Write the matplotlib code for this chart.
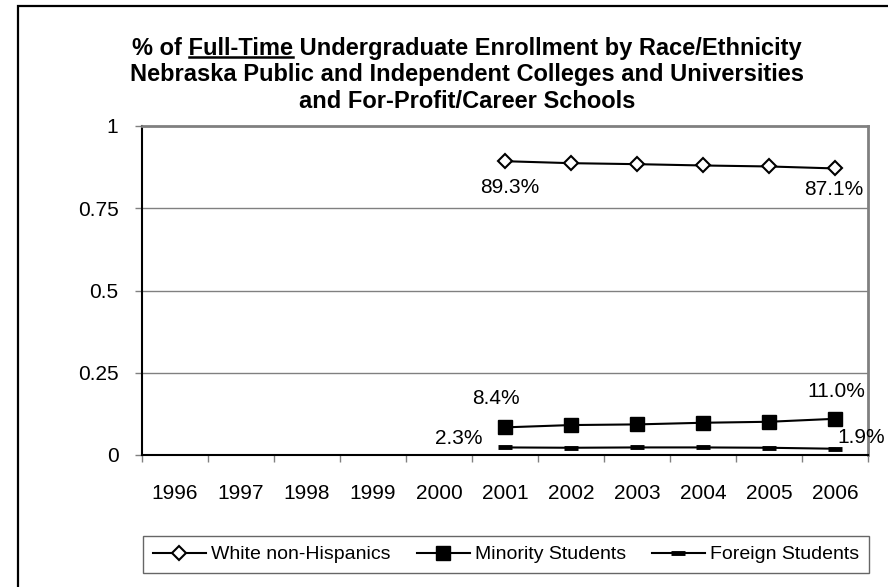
import matplotlib
matplotlib.use("Agg")
import matplotlib.pyplot as plt
from matplotlib.lines import Line2D
from matplotlib.patches import Rectangle

plt.rcParams["font.family"] = ["Liberation Sans", "DejaVu Sans"]

YEARS = ["1996", "1997", "1998", "1999", "2000", "2001", "2002", "2003", "2004", "2005", "2006"]
DATA_YEARS = ["2001", "2002", "2003", "2004", "2005", "2006"]
WHITE = [0.893, 0.887, 0.884, 0.880, 0.877, 0.871]
MINORITY = [0.084, 0.091, 0.093, 0.098, 0.101, 0.110]
FOREIGN = [0.023, 0.022, 0.023, 0.023, 0.022, 0.019]
Y_TICKS = [0, 0.25, 0.5, 0.75, 1]
Y_TICK_LABELS = ["0", "0.25", "0.5", "0.75", "1"]
SERIES_NAMES = ["White non-Hispanics", "Minority Students", "Foreign Students"]
TITLE_LINES = [
    "% of Full-Time Undergraduate Enrollment by Race/Ethnicity",
    "Nebraska Public and Independent Colleges and Universities",
    "and For-Profit/Career Schools",
]

W, H = 888, 587
fig = plt.figure(figsize=(W / 100, H / 100), dpi=100)
fig.patch.set_facecolor("white")

# outer chart frame (right/bottom edges fall outside the image)
fig.patches.append(Rectangle((18 / W, -0.1), 1.2, (H - 6) / H + 0.1, transform=fig.transFigure,
                             fill=False, edgecolor="black", linewidth=1.6))

ax = fig.add_axes([142 / W, (H - 455) / H, 726 / W, 329 / H])
x_idx = {y: i for i, y in enumerate(YEARS)}
xs = [x_idx[y] for y in DATA_YEARS]

ax.plot(xs, WHITE, color="black", lw=1.5, marker="D", ms=7, mfc="white", mec="black", mew=1.5,
        label=SERIES_NAMES[0])
ax.plot(xs, MINORITY, color="black", lw=1.5, marker="s", ms=10, mfc="black", mec="black",
        label=SERIES_NAMES[1])
ax.plot(xs, FOREIGN, color="black", lw=1.5, marker="_", ms=10, mew=3.5, mec="black",
        label=SERIES_NAMES[2])

ax.set_xlim(-0.5, len(YEARS) - 0.5)
ax.set_ylim(0, 1)
ax.set_yticks(Y_TICKS)
ax.set_yticklabels(Y_TICK_LABELS)
ax.set_xticks(range(len(YEARS)))
ax.set_xticklabels(YEARS)
ax.set_xticks([i - 0.5 for i in range(len(YEARS) + 1)], minor=True)
ax.tick_params(axis="x", which="major", length=0, pad=21, labelsize=15)
ax.tick_params(axis="x", which="minor", length=5, width=1, color="#808080", direction="out")
ax.tick_params(axis="y", length=5, width=1, color="#808080", pad=12, labelsize=15)
for v in Y_TICKS[1:-1]:
    ax.axhline(v, color="#808080", lw=1, zorder=0)

ax.spines["left"].set_color("black")
ax.spines["left"].set_linewidth(1.5)
ax.spines["bottom"].set_color("black")
ax.spines["bottom"].set_linewidth(1.5)
ax.spines["top"].set_color("#808080")
ax.spines["top"].set_linewidth(2)
ax.spines["right"].set_color("#808080")
ax.spines["right"].set_linewidth(2)

lab = dict(textcoords="offset pixels", fontsize=15, va="center")
ax.annotate(f"{WHITE[0]*100:.1f}%", (xs[0], WHITE[0]), xytext=(5, -26), ha="center", **lab)
ax.annotate(f"{WHITE[-1]*100:.1f}%", (xs[-1], WHITE[-1]), xytext=(-1, -21), ha="center", **lab)
ax.annotate(f"{MINORITY[0]*100:.1f}%", (xs[0], MINORITY[0]), xytext=(-9, 29), ha="center", **lab)
ax.annotate(f"{MINORITY[-1]*100:.1f}%", (xs[-1], MINORITY[-1]), xytext=(1, 27), ha="center", **lab)
ax.annotate(f"{FOREIGN[0]*100:.1f}%", (xs[0], FOREIGN[0]), xytext=(-23, 9), ha="right", **lab)
ax.annotate(f"{FOREIGN[-1]*100:.1f}%", (xs[-1], FOREIGN[-1]), xytext=(2, 11), ha="left", **lab)

# title, with "Full-Time" underlined
title_x = 467 / W
title_ys = [48, 75, 102]
title_fs = 17
title_texts = []
for line, yy in zip(TITLE_LINES, title_ys):
    t = fig.text(title_x, 1 - yy / H, line, ha="center", va="center", fontsize=title_fs, fontweight="bold")
    title_texts.append(t)

renderer = fig.canvas.get_renderer()
bb = title_texts[0].get_window_extent(renderer)
pre = fig.text(0, 0, "% of ", fontsize=title_fs, fontweight="bold")
mid = fig.text(0, 0, "% of Full-Time", fontsize=title_fs, fontweight="bold")
w_pre = pre.get_window_extent(renderer).width
w_mid = mid.get_window_extent(renderer).width
pre.remove()
mid.remove()
ul_y = (bb.y0 + 3) / H
fig.lines.append(Line2D([(bb.x0 + w_pre) / W, (bb.x0 + w_mid) / W], [ul_y, ul_y],
                        transform=fig.transFigure, color="black", lw=1.8))

leg = fig.legend(loc="center", bbox_to_anchor=(506 / W, 1 - 554.5 / H),
                 ncol=3, fontsize=14, frameon=True, fancybox=False,
                 handlelength=2.73, handletextpad=0.26, columnspacing=1.34,
                 borderpad=0.5, borderaxespad=0)
leg.get_frame().set_edgecolor("#404040")
leg.get_frame().set_linewidth(1)

fig.savefig("out.png", dpi=100)
